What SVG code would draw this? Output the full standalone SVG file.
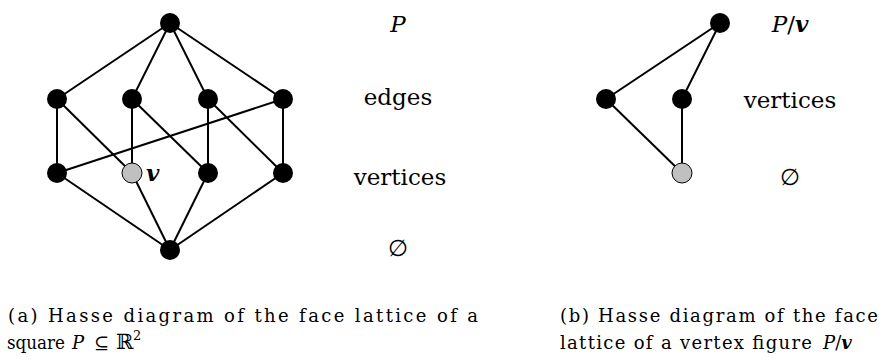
<svg xmlns="http://www.w3.org/2000/svg" width="885" height="362" viewBox="0 0 885 362">
<style>
.e{stroke:#000;stroke-width:2;fill:none}
.n{fill:#000}
.g{fill:#c0c0c0;stroke:#000;stroke-width:1}
text{font-family:"DejaVu Serif","Liberation Serif",serif;fill:#000}
.lbl{font-size:23px}
.cap{font-size:18px}
.it{font-style:italic}
.bi{font-style:italic;font-weight:bold}
</style>
<rect width="885" height="362" fill="#fff"/>
<g id="connectors">
<line class="e" x1="170" y1="23" x2="57" y2="99"/>
<line class="e" x1="170" y1="23" x2="132" y2="99"/>
<line class="e" x1="170" y1="23" x2="208" y2="99"/>
<line class="e" x1="170" y1="23" x2="283" y2="99"/>
<line class="e" x1="57" y1="99" x2="57" y2="173"/>
<line class="e" x1="57" y1="99" x2="132" y2="173"/>
<line class="e" x1="132" y1="99" x2="132" y2="173"/>
<line class="e" x1="132" y1="99" x2="208" y2="173"/>
<line class="e" x1="208" y1="99" x2="208" y2="173"/>
<line class="e" x1="208" y1="99" x2="283" y2="173"/>
<line class="e" x1="283" y1="99" x2="283" y2="173"/>
<line class="e" x1="283" y1="99" x2="57" y2="173"/>
<line class="e" x1="57" y1="173" x2="170" y2="250"/>
<line class="e" x1="132" y1="173" x2="170" y2="250"/>
<line class="e" x1="208" y1="173" x2="170" y2="250"/>
<line class="e" x1="283" y1="173" x2="170" y2="250"/>
<line class="e" x1="720" y1="23" x2="606" y2="99"/>
<line class="e" x1="720" y1="23" x2="682" y2="99"/>
<line class="e" x1="606" y1="99" x2="682" y2="173"/>
<line class="e" x1="682" y1="99" x2="682" y2="173"/>
</g>
<g id="a-top"><circle class="n" cx="170" cy="23" r="10"/></g>
<g id="a-e1"><circle class="n" cx="57" cy="99" r="10"/></g>
<g id="a-e2"><circle class="n" cx="132" cy="99" r="10"/></g>
<g id="a-e3"><circle class="n" cx="208" cy="99" r="10"/></g>
<g id="a-e4"><circle class="n" cx="283" cy="99" r="10"/></g>
<g id="a-v1"><circle class="n" cx="57" cy="173" r="10"/></g>
<g id="a-v2"><circle class="g" cx="132" cy="173" r="10"/><text class="lbl bi" x="146" y="181">v</text></g>
<g id="a-v3"><circle class="n" cx="208" cy="173" r="10"/></g>
<g id="a-v4"><circle class="n" cx="283" cy="173" r="10"/></g>
<g id="a-bot"><circle class="n" cx="170" cy="250" r="10"/></g>
<g id="b-top"><circle class="n" cx="720" cy="23" r="10"/></g>
<g id="b-l"><circle class="n" cx="606" cy="99" r="10"/></g>
<g id="b-m"><circle class="n" cx="682" cy="99" r="10"/></g>
<g id="b-bot"><circle class="g" cx="682" cy="173" r="10"/></g>
<g id="labels">
<text class="lbl it" x="398" y="32" text-anchor="middle">P</text>
<text class="lbl" x="398" y="105" text-anchor="middle">edges</text>
<text class="lbl" x="400" y="185" text-anchor="middle">vertices</text>
<text class="lbl" x="398" y="256" text-anchor="middle">∅</text>
<text class="lbl" x="790" y="32" text-anchor="middle"><tspan class="it">P</tspan>/<tspan class="bi">v</tspan></text>
<text class="lbl" x="790" y="108" text-anchor="middle">vertices</text>
<text class="lbl" x="790" y="185" text-anchor="middle">∅</text>
</g>
<g id="captions">
<text class="cap" x="8" y="322" textLength="470" lengthAdjust="spacing">(a) Hasse diagram of the face lattice of a</text>
<text class="cap" y="349"><tspan x="7" textLength="58" lengthAdjust="spacingAndGlyphs">square</tspan><tspan class="it" x="72">P</tspan><tspan x="94">⊆</tspan><tspan x="116" font-size="21">ℝ</tspan><tspan x="133" y="340" font-size="13">2</tspan></text>
<text class="cap" x="560" y="322" textLength="318" lengthAdjust="spacing">(b) Hasse diagram of the face</text>
<text class="cap" y="349"><tspan x="560" textLength="252" lengthAdjust="spacing">lattice of a vertex figure</tspan><tspan class="it" x="823">P</tspan><tspan>/</tspan><tspan class="bi">v</tspan></text>
</g>
</svg>
